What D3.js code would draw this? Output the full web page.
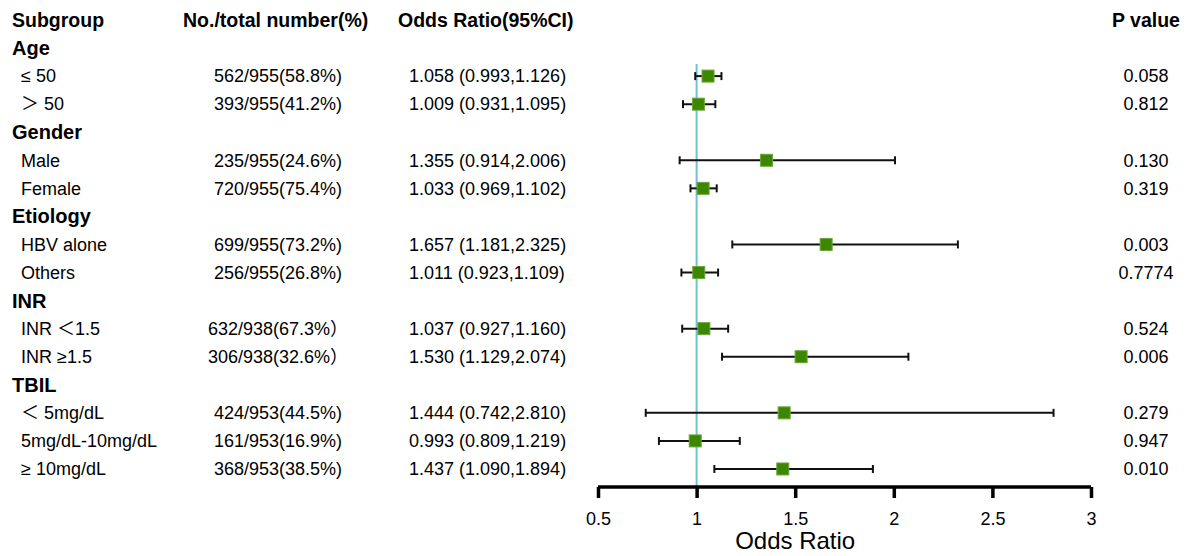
<!DOCTYPE html>
<html>
<head>
<meta charset="utf-8">
<script src="https://cdn.jsdelivr.net/npm/d3@7"></script>
<style>
  body { margin: 0; background: #fff; }
  text { font-family: Arial, "Liberation Sans", "Noto Sans CJK SC", sans-serif; fill: #000; }
</style>
</head>
<body>
<div id="forest"></div>
<script>
// Data
let groups = ['Age', 'Gender', 'Etiology', 'INR', 'TBIL'];
let subgroups = [
    ['≤ 50', '＞ 50'],
    ['Male', 'Female'],
    ['HBV alone', 'Others'],
    ['INR ＜1.5', 'INR ≥1.5'],
    ['＜ 5mg/dL', '5mg/dL-10mg/dL', '≥ 10mg/dL']
];
let counts = [
    ['562/955(58.8%)', '393/955(41.2%)'],
    ['235/955(24.6%)', '720/955(75.4%)'],
    ['699/955(73.2%)', '256/955(26.8%)'],
    ['632/938(67.3%）', '306/938(32.6%）'],
    ['424/953(44.5%)', '161/953(16.9%)', '368/953(38.5%)']
];
let oddsRatio = [1.058, 1.009, 1.355, 1.033, 1.657, 1.011, 1.037, 1.530, 1.444, 0.993, 1.437];
let ciLow =     [0.993, 0.931, 0.914, 0.969, 1.181, 0.923, 0.927, 1.129, 0.742, 0.809, 1.090];
let ciHigh =    [1.126, 1.095, 2.006, 1.102, 2.325, 1.109, 1.160, 2.074, 2.810, 1.219, 1.894];
let pValues = ['0.058', '0.812', '0.130', '0.319', '0.003', '0.7774', '0.524', '0.006', '0.279', '0.947', '0.010'];
let xTicks = [0.5, 1, 1.5, 2, 2.5, 3];

let width = 1191, height = 556;

// build rows: header rows + item rows
let rows = [];
let k = 0;
groups.forEach(function (g, i) {
    rows.push({type: 'group', label: g});
    subgroups[i].forEach(function (s, j) {
        rows.push({type: 'item', label: s, count: counts[i][j],
            or: oddsRatio[k], lo: ciLow[k], hi: ciHigh[k], p: pValues[k]});
        k++;
    });
});

const svg = d3.select('#forest')
    .append('svg')
    .attr('width', width)
    .attr('height', height);

// ROW SCALE
let yScale = d3.scaleBand()
    .domain(d3.range(rows.length))
    .range([34, 483])
    .paddingInner(0);

// OR SCALE
let xScale = d3.scaleLinear()
    .domain([0.5, 3])
    .range([598, 1091]);

let yMid = function (i) { return yScale(i) + yScale.bandwidth() / 2; };

// column headers
let headers = [
    {t: 'Subgroup', x: 12, a: 'start'},
    {t: 'No./total number(%)', x: 183, a: 'start'},
    {t: 'Odds Ratio(95%CI)', x: 398, a: 'start'},
    {t: 'P value', x: 1146, a: 'middle'}
];
svg.selectAll('.hdr')
    .data(headers).enter()
    .append('text')
    .attr('class', 'hdr')
    .attr('x', d => d.x)
    .attr('y', 20)
    .attr('dy', '0.35em')
    .attr('text-anchor', d => d.a)
    .style('font-size', '19.5px')
    .style('font-weight', 'bold')
    .text(d => d.t);

// reference line at OR = 1
svg.append('line')
    .attr('x1', xScale(1)).attr('x2', xScale(1))
    .attr('y1', 64).attr('y2', 487)
    .style('stroke', '#6cc3cd')
    .style('stroke-width', 2);

let rowG = svg.selectAll('.row')
    .data(rows).enter()
    .append('g')
    .attr('class', 'row')
    .attr('transform', (d, i) => 'translate(0,' + yMid(i) + ')');

// group labels
rowG.filter(d => d.type === 'group')
    .append('text')
    .attr('x', 12)
    .attr('dy', '0.35em')
    .style('font-size', '20px')
    .style('font-weight', 'bold')
    .text(d => d.label);

let items = rowG.filter(d => d.type === 'item');

items.append('text')
    .attr('x', 21)
    .attr('dy', '0.35em')
    .style('font-size', '18px')
    .text(d => d.label);

items.append('text')
    .attr('x', d => d.count.indexOf('）') > 0 ? 208 : 214)
    .attr('dy', '0.35em')
    .style('font-size', '18px')
    .text(d => d.count);

items.append('text')
    .attr('x', 409)
    .attr('dy', '0.35em')
    .style('font-size', '18px')
    .text(d => d3.format('.3f')(d.or) + ' (' + d3.format('.3f')(d.lo) + ',' + d3.format('.3f')(d.hi) + ')');

items.append('text')
    .attr('x', 1146)
    .attr('dy', '0.35em')
    .attr('text-anchor', 'middle')
    .style('font-size', '18px')
    .text(d => d.p);

// CI whiskers
items.append('line')
    .attr('x1', d => xScale(d.lo))
    .attr('x2', d => xScale(d.hi))
    .style('stroke', '#111')
    .style('stroke-width', 2);

items.append('line')
    .attr('x1', d => xScale(d.lo)).attr('x2', d => xScale(d.lo))
    .attr('y1', -4).attr('y2', 4)
    .style('stroke', '#111')
    .style('stroke-width', 2);

items.append('line')
    .attr('x1', d => xScale(d.hi)).attr('x2', d => xScale(d.hi))
    .attr('y1', -4).attr('y2', 4)
    .style('stroke', '#111')
    .style('stroke-width', 2);

// point estimates
items.append('rect')
    .attr('x', d => xScale(d.or) - 6)
    .attr('y', -6)
    .attr('width', 12)
    .attr('height', 12)
    .style('fill', '#3d8600')
    .style('stroke', '#6aa63a')
    .style('stroke-width', 1);

// x axis
let xAxis = d3.axisBottom(xScale)
    .tickValues(xTicks)
    .tickFormat(d3.format('~g'))
    .tickSize(11)
    .tickPadding(14);

let gX = svg.append('g')
    .attr('class', 'axis axis--x')
    .attr('transform', 'translate(0,487)')
    .call(xAxis);

gX.select('.domain')
    .attr('d', 'M' + xScale(0.5) + ',0H' + xScale(3))
    .style('stroke', '#000')
    .style('stroke-width', 3.5);
gX.selectAll('.tick line')
    .style('stroke', '#000')
    .style('stroke-width', 3.5);
gX.selectAll('.tick text')
    .style('font-size', '18px')
    .style('font-family', 'Arial, "Liberation Sans", sans-serif')
    .style('fill', '#000');

svg.append('text')
    .attr('x', xScale(1.5))
    .attr('y', 541)
    .attr('dy', '0.35em')
    .attr('text-anchor', 'middle')
    .style('font-size', '24px')
    .text('Odds Ratio');
</script>
</body>
</html>
